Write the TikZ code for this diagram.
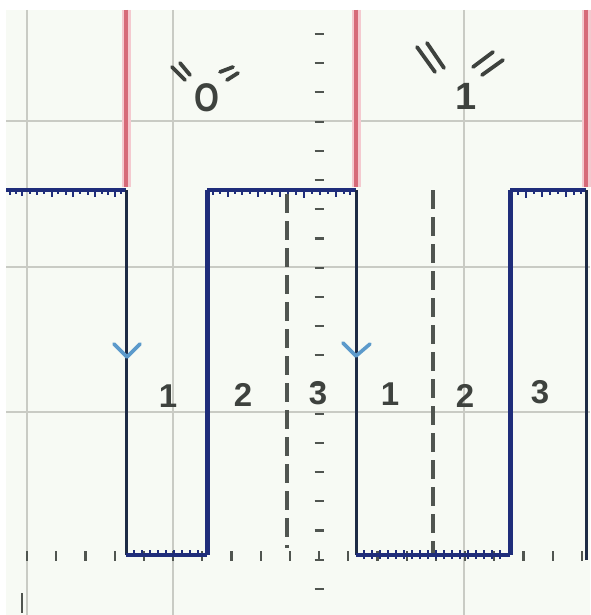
\documentclass[tikz,border=0pt]{standalone}
\usepackage{fontspec}
\setmainfont{Liberation Sans}
\definecolor{bgc}{HTML}{F7FAF4}
\definecolor{gridc}{HTML}{C9CBC4}
\definecolor{wave}{HTML}{1F2D7A}
\definecolor{wavedk}{HTML}{1E2B45}
\definecolor{redc}{HTML}{D66A78}
\definecolor{pinkc}{HTML}{F4C9CF}
\definecolor{arrc}{HTML}{5C9ACB}
\definecolor{txt}{HTML}{3E423E}
\definecolor{dashc}{HTML}{505550}
\tikzset{
  gridline/.style={gridc, line width=2pt},
  tickm/.style={dashc, line width=2.2pt},
  waveline/.style={wave, line width=4pt},
  edgefall/.style={wavedk, line width=3pt},
  trig/.style={redc, line width=4pt},
  trighalo/.style={pinkc, line width=9pt},
  dashv/.style={dashc, line width=3.8pt, dash pattern=on 19pt off 8pt},
  vmark/.style={arrc, line width=3.6pt, line cap=round, line join=round},
  lab/.style={txt, font=\fontsize{33}{33}\selectfont\bfseries, inner sep=0pt},
  quot/.style={txt, line width=3.8pt, line cap=round}
}
\begin{document}
\begin{tikzpicture}[x=1pt,y=-1pt]
\useasboundingbox (0,0) rectangle (590,615);
\fill[white] (0,0) rectangle (590,615);
\fill[bgc] (6,10) rectangle (590,615);
% grid
\foreach \gx in {27,173,464} \draw[gridline] (\gx,10) -- (\gx,615);
\foreach \gy in {121,267,412} \draw[gridline] (6,\gy) -- (590,\gy);
% vertical axis ticks
\foreach \k in {0,...,19} \draw[tickm] (314.5,34+29.2*\k) -- (323.5,34+29.2*\k);
% horizontal axis ticks
\foreach \k in {0,...,19} \draw[tickm] (27+29.2*\k,551) -- (27+29.2*\k,561);
% trigger red lines
\foreach \tx/\nm in {126/ta,356/tb,586/tc} {
  \coordinate (\nm top) at (\tx,10);
  \coordinate (\nm bot) at (\tx,187);
  \draw[trighalo] (\nm top) -- (\nm bot);
  \draw[trig] (\nm top) -- (\nm bot);
}
% square wave coordinates
\coordinate (h0) at (6,190);
\coordinate (f1t) at (126,190);
\coordinate (f1b) at (126,555);
\coordinate (r1b) at (207,555);
\coordinate (r1t) at (207,190);
\coordinate (f2t) at (356,190);
\coordinate (f2b) at (356,555);
\coordinate (r2b) at (510,555);
\coordinate (r2t) at (510,190);
\coordinate (f3t) at (586,190);
\coordinate (f3b) at (586,560);
\draw[waveline] (h0) -- (f1t);
\draw[edgefall] (f1t) -- (f1b);
\draw[waveline] (f1b) -- (r1b);
\draw[waveline, line width=5pt] (r1b) -- (r1t);
\draw[waveline] (r1t) -- (f2t);
\draw[edgefall] (f2t) -- (f2b);
\draw[waveline] (f2b) -- (r2b);
\draw[waveline, line width=5pt] (r2b) -- (r2t);
\draw[waveline] (r2t) -- (f3t);
\draw[edgefall] (f3t) -- (f3b);
% noise on high level
\foreach \nx/\nl in {10/5,16/4,22/6,30/4,37/5,44/4,52/7,58/4,66/5,73/7,80/4,88/5,95/7,102/4,108/5,115/7,121/4,
 213/5,220/4,228/7,235/4,242/5,250/4,258/7,265/4,272/5,280/7,288/4,296/5,304/8,312/4,320/5,328/4,336/7,344/4,350/5,
 518/5,526/8,534/4,542/7,550/5,558/4,566/7,574/5,581/4}
  \draw[wave, line width=2pt] (\nx,190) -- (\nx,190+\nl);
% noise on low levels
\foreach \nx in {134,142,150,158,166,174,182,190,198} \draw[wave, line width=1.8pt] (\nx,555) -- (\nx,550);
\foreach \nx in {364,372,380,388,396,404,412,420,428,436,444,452,460,468,476,484,492,500}
  \draw[wave, line width=1.8pt] (\nx,559) -- (\nx,550);
% dashed separators
\coordinate (d1t) at (287,194);
\coordinate (d1b) at (287,548);
\coordinate (d2t) at (433,190);
\coordinate (d2b) at (433,553);
\draw[dashv] (d1t) -- (d1b);
\draw[dashv] (d2t) -- (d2b);
% direction marks
\draw[vmark] (114,344) -- (127,357) -- (140,344);
\draw[vmark] (343,343) -- (356,356) -- (370,344);
% labels
\node[lab] (n1a) at (168,396) {1};
\node[lab] (n2a) at (243,395) {2};
\node[lab] (n3a) at (318,393) {3};
\node[lab] (n1b) at (390,394) {1};
\node[lab] (n2b) at (465,396) {2};
\node[lab] (n3b) at (540,392) {3};
\node[lab, font=\fontsize{40}{40}\selectfont\bfseries, xscale=0.8] (zero) at (207,98) {O};
\node[lab, font=\fontsize{38}{38}\selectfont\bfseries] (one) at (466,96) {1};
% quote marks
\draw[quot] (172,67) -- (185,80);
\draw[quot] (180,63) -- (190,75);
\draw[quot] (220,72) -- (233,67);
\draw[quot] (227,80) -- (238,73);
\draw[quot] (417,47) -- (435,72);
\draw[quot] (427,43) -- (444,68);
\draw[quot] (473,67) -- (493,52);
\draw[quot] (482,75) -- (503,60);
% bottom-left mark
\coordinate (bl1) at (22,593);
\coordinate (bl2) at (22,613);
\draw[dashc, line width=2.2pt] (bl1) -- (bl2);
\end{tikzpicture}
\end{document}
